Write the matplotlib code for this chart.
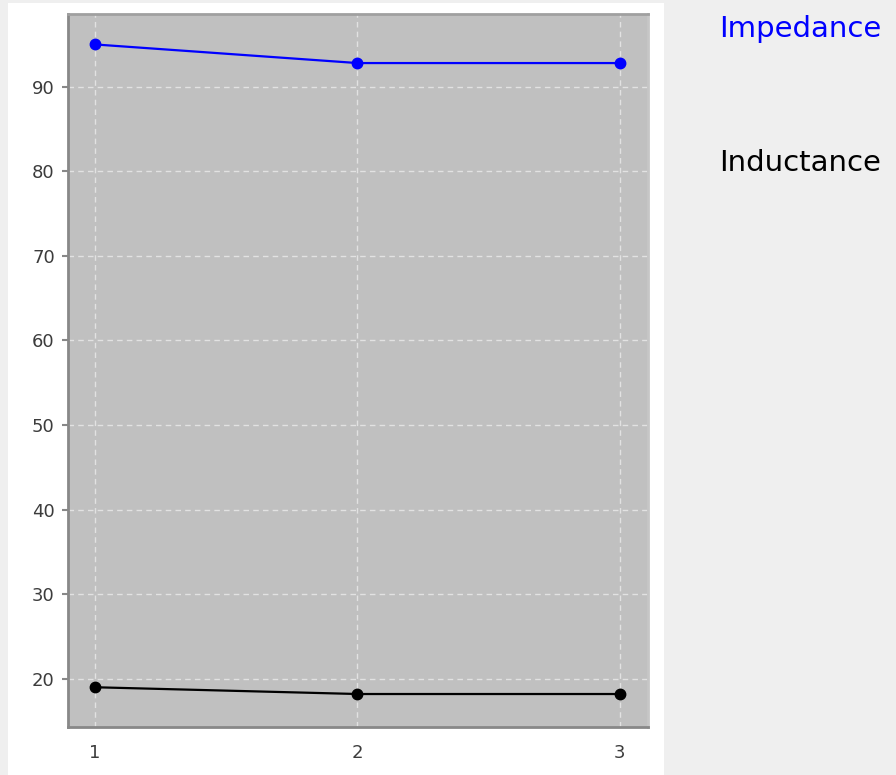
import matplotlib.pyplot as plt
from matplotlib.patches import Rectangle

# data
x_vals = [1, 2, 3]
impedance = [95.0, 92.8, 92.8]
inductance = [19.0, 18.2, 18.2]
series_names = ['Impedance', 'Inductance']
series_colors = ['#0000ff', '#000000']
y_ticks = [20, 30, 40, 50, 60, 70, 80, 90]

W, H = 896, 775
fig = plt.figure(figsize=(W / 100, H / 100), dpi=100, facecolor='#efefef')

# white panel behind the plot
panel = Rectangle((8 / W, 0), (664 - 8) / W, 1 - 3 / H,
                  transform=fig.transFigure, facecolor='white',
                  edgecolor='none', zorder=-5)
fig.add_artist(panel)

ax = fig.add_axes([68 / W, 1 - 727 / H, (648 - 68) / W, (727 - 14) / H])
ax.set_zorder(2)
ax.set_facecolor('#c0c0c0')

for vals, color in zip([impedance, inductance], series_colors):
    ax.plot(x_vals, vals, color=color, lw=1.6, marker='o', ms=7.5, zorder=3)

ax.set_xlim(0.897, 3.107)
ax.set_ylim(14.3, 98.6)
ax.set_xticks(x_vals)
ax.set_yticks(y_ticks)
ax.grid(True, color='#e2e2e2', ls=(0, (4, 3)), lw=1)
ax.set_axisbelow(True)

ax.tick_params(axis='y', length=4.5, width=1.5, color='#888888', pad=5,
               labelsize=13, labelcolor='#3c3c3c')
ax.tick_params(axis='x', length=0, pad=12, labelsize=13, labelcolor='#3c3c3c')

for side in ['left', 'bottom']:
    ax.spines[side].set_color('#888888')
    ax.spines[side].set_linewidth(2)
ax.spines['top'].set_color('#a0a0a0')
ax.spines['top'].set_linewidth(2)
ax.spines['right'].set_color('#c6c6c6')
ax.spines['right'].set_linewidth(2)

# legend-like labels on the right
fig.text(719 / W, 1 - 29 / H, series_names[0], color=series_colors[0],
         fontsize=21, va='center', ha='left')
fig.text(719 / W, 1 - 163 / H, series_names[1], color=series_colors[1],
         fontsize=21, va='center', ha='left')

fig.savefig('out.png', dpi=100, facecolor=fig.get_facecolor())
